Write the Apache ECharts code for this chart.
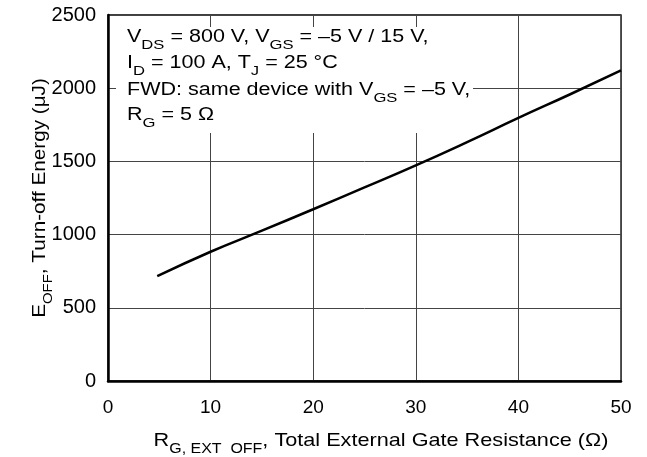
<!DOCTYPE html>
<html>
<head>
<meta charset="utf-8">
<script src="https://cdn.jsdelivr.net/npm/echarts@6/dist/echarts.min.js"></script>
<style>html,body{margin:0;padding:0;background:#fff}#c{width:647px;height:457px}</style>
</head>
<body>
<div id="c"></div>
<script>
const resistance = [4.8, 10, 15, 20, 25, 30, 35, 40, 45, 50];
const eoff = [716, 883, 1027, 1173, 1322, 1473, 1632, 1797, 1957, 2121];
const xTicks = [0, 10, 20, 30, 40, 50];
const yTicks = [0, 500, 1000, 1500, 2000, 2500];
const noteLines = [
  '{m|V}{s|DS}{m| = 800 V, V}{s|GS}{m| = –5 V / 15 V,}',
  '{m|I}{s|D}{m| = 100 A, T}{s|J}{m| = 25 °C}',
  '{m|FWD: same device with V}{s|GS}{m| = –5 V,}',
  '{m|R}{s|G}{m| = 5 Ω}'
];
const xName = '{m|R}{s|G, EXT  OFF}{m|, Total External Gate Resistance (Ω)}';
const yName = '{m|E}{s|OFF}{m|, Turn-off Energy (μJ)}';

const FONT = 'Liberation Sans';
const chart = echarts.init(document.getElementById('c'));
const rich = {
  m: { fontSize: 17.5, fontFamily: FONT, fill: '#000', lineHeight: 30 },
  s: { fontSize: 13.5, fontFamily: FONT, fill: '#000', lineHeight: 14, verticalAlign: 'bottom' }
};
const nameRich = {
  m: { fontSize: 19, fontFamily: FONT, fill: '#000', lineHeight: 30 },
  s: { fontSize: 14, fontFamily: FONT, fill: '#000', lineHeight: 17, verticalAlign: 'bottom' }
};
const yNameRich = {
  m: { fontSize: 18, fontFamily: FONT, fill: '#000', lineHeight: 30 },
  s: { fontSize: 13, fontFamily: FONT, fill: '#000', lineHeight: 17, verticalAlign: 'bottom' }
};
const noteY = [37, 63, 90, 115];
const noteGraphics = noteLines.map((t, i) => ({
  type: 'text', z: 60, x: 127, y: noteY[i], scaleX: 1.23,
  style: { text: t, rich: rich, align: 'left', verticalAlign: 'middle' }
}));

chart.setOption({
  animation: false,
  backgroundColor: '#fff',
  grid: { left: 108, right: 26, top: 15, bottom: 76, show: true, borderColor: '#000', borderWidth: 1.3 },
  xAxis: {
    type: 'value', min: 0, max: 50, interval: 10,
    axisLine: { show: true, onZero: false, lineStyle: { color: '#000', width: 2.5 } },
    axisTick: { show: false },
    splitLine: { show: true, lineStyle: { color: '#444', width: 1 } },
    axisLabel: { color: '#000', fontSize: 19, fontFamily: FONT, margin: 17,
      formatter: v => xTicks.includes(v) ? String(v) : '' }
  },
  yAxis: {
    type: 'value', min: 0, max: 2500, interval: 500,
    axisLine: { show: true, onZero: false, lineStyle: { color: '#000', width: 2.5 } },
    axisTick: { show: false },
    splitLine: { show: true, lineStyle: { color: '#444', width: 1 } },
    axisLabel: { color: '#000', fontSize: 20, fontFamily: FONT, margin: 12,
      formatter: v => yTicks.includes(v) ? String(v) : '' }
  },
  graphic: [
    { type: 'rect', z: 50, shape: { x: 116, y: 27, width: 357, height: 106 }, style: { fill: '#fff' } },
    ...noteGraphics,
    { type: 'text', z: 60, x: 381, y: 441, scaleX: 1.14,
      style: { text: xName, rich: nameRich, align: 'center', verticalAlign: 'middle' } },
    { type: 'text', z: 60, x: 40, y: 198, scaleX: 1.15, rotation: Math.PI / 2,
      style: { text: yName, rich: yNameRich, align: 'center', verticalAlign: 'middle' } }
  ],
  series: [{
    type: 'line',
    data: resistance.map((r, i) => [r, eoff[i]]),
    showSymbol: false, smooth: true,
    lineStyle: { color: '#000', width: 2.5 },
    z: 10
  }]
});
</script>
</body>
</html>
